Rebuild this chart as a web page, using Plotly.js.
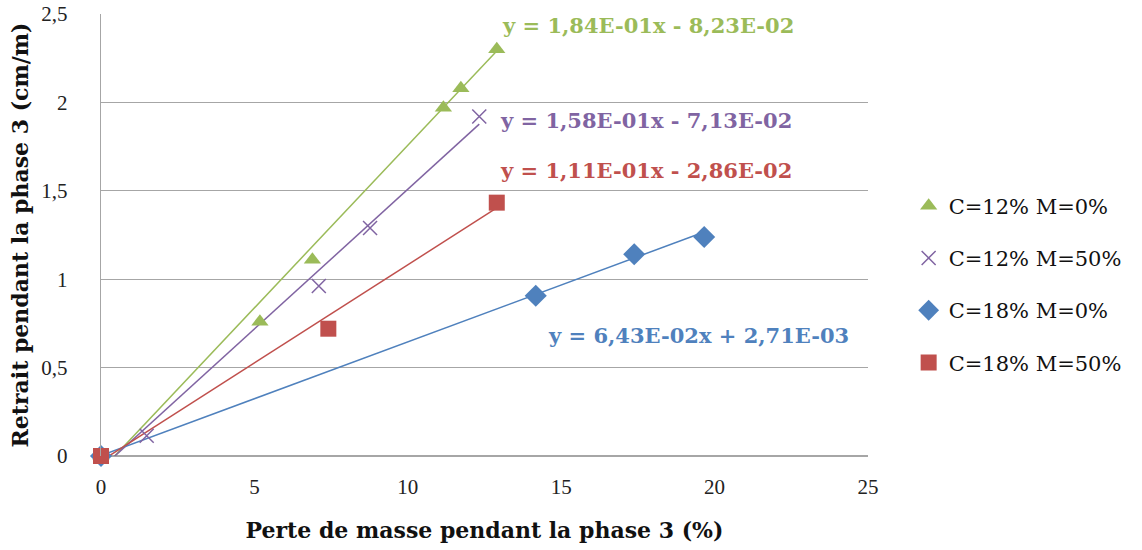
<!DOCTYPE html>
<html><head><meta charset="utf-8">
<script src="https://cdn.plot.ly/plotly-3.0.1.min.js"></script>
<style>html,body{margin:0;padding:0;background:#fff}#chart{width:1142px;height:550px}</style>
</head><body><div id="chart"></div>
<script>
// Series names
const seriesNames = ["C=12% M=0%", "C=12% M=50%", "C=18% M=0%", "C=18% M=50%"];
// Data
const x_c12m0 = [0, 5.18, 6.89, 11.16, 11.73, 12.9];
const y_c12m0 = [0, 0.76, 1.11, 1.97, 2.08, 2.30];
const x_c12m50 = [0, 1.49, 7.1, 8.77, 12.33];
const y_c12m50 = [0, 0.115, 0.962, 1.29, 1.92];
const x_c18m0 = [0, 14.17, 17.38, 19.66];
const y_c18m0 = [0, 0.906, 1.141, 1.239];
const x_c18m50 = [0, 7.41, 12.9];
const y_c18m50 = [0, 0.72, 1.433];
// Trendline coefficients (slope, intercept) as printed on the chart
const slopes = [0.184, 0.158, 0.0643, 0.111];
const intercepts = [-0.0823, -0.0713, 0.00271, -0.0286];
const eqLabels = ["y = 1,84E-01x - 8,23E-02", "y = 1,58E-01x - 7,13E-02", "y = 6,43E-02x + 2,71E-03", "y = 1,11E-01x - 2,86E-02"];

const colors = ["#9BBB59", "#8064A2", "#4F81BD", "#C0504D"];
const symbols = ["triangle-up", "x-thin-open", "diamond", "square"];
const sizes = [15, 14, 17, 16];
const xs = [x_c12m0, x_c12m50, x_c18m0, x_c18m50];
const ys = [y_c12m0, y_c12m50, y_c18m0, y_c18m50];

const traces = [];
for (let i = 0; i < 4; i++) {
  const xmin = Math.min(...xs[i]), xmax = Math.max(...xs[i]);
  traces.push({
    x: [xmin, xmax], y: [slopes[i]*xmin + intercepts[i], slopes[i]*xmax + intercepts[i]],
    mode: "lines", line: {color: colors[i], width: 1.5}, showlegend: false, hoverinfo: "skip"
  });
}
for (let i = 0; i < 4; i++) {
  traces.push({
    x: xs[i], y: ys[i], name: seriesNames[i], mode: "markers", legendgroup: "g" + i,
    marker: {symbol: symbols[i], size: sizes[i], color: colors[i],
             line: {color: colors[i], width: symbols[i] === "x-thin-open" ? 1.5 : 0}},
    cliponaxis: false
  });
}

const serif = "Liberation Serif";
const wide = "DejaVu Serif";
const eqPos = [[13.0, 2.435], [12.94, 1.898], [14.5, 0.684], [12.94, 1.616]];
const annotations = eqLabels.map((t, i) => ({
  x: eqPos[i][0], y: eqPos[i][1], xref: "x", yref: "y", text: "<b>" + t + "</b>",
  showarrow: false, xanchor: "left", yanchor: "middle",
  font: {family: wide, size: 21, color: colors[i]}
}));

const layout = {
  width: 1142, height: 550,
  margin: {l: 101, r: 274, t: 14, b: 94, autoexpand: false},
  paper_bgcolor: "#fff", plot_bgcolor: "#fff",
  separators: ", ",
  font: {family: serif, size: 20, color: "#222"},
  showlegend: true,
  legend: {x: 1.053, y: 0.388, xanchor: "left", yanchor: "middle",
           font: {family: wide, size: 21, color: "#111"}, tracegroupgap: 22,
           itemwidth: 30, bgcolor: "rgba(0,0,0,0)"},
  xaxis: {range: [0, 25], dtick: 5, tick0: 0, showgrid: false, zeroline: false,
          showline: false, ticks: "", ticklabelstandoff: 16,
          tickfont: {family: serif, size: 21, color: "#222"},
          title: {text: "<b>Perte de masse pendant la phase 3 (%)</b>", standoff: 24,
                  font: {family: wide, size: 22, color: "#111"}}},
  yaxis: {range: [0, 2.5], dtick: 0.5, tick0: 0, showgrid: true, gridcolor: "#a6a6a6", gridwidth: 1.3,
          zeroline: true, zerolinecolor: "#a6a6a6", zerolinewidth: 1.3,
          showline: true, linecolor: "#a6a6a6", linewidth: 1.3, ticks: "",
          ticklabelstandoff: 28,
          tickfont: {family: serif, size: 21, color: "#222"},
          title: {text: "<b>Retrait pendant la phase 3 (cm/m)</b>", standoff: 6,
                  font: {family: wide, size: 22, color: "#111"}}},
  annotations: annotations
};
Plotly.newPlot("chart", traces, layout, {staticPlot: true});
</script></body></html>
